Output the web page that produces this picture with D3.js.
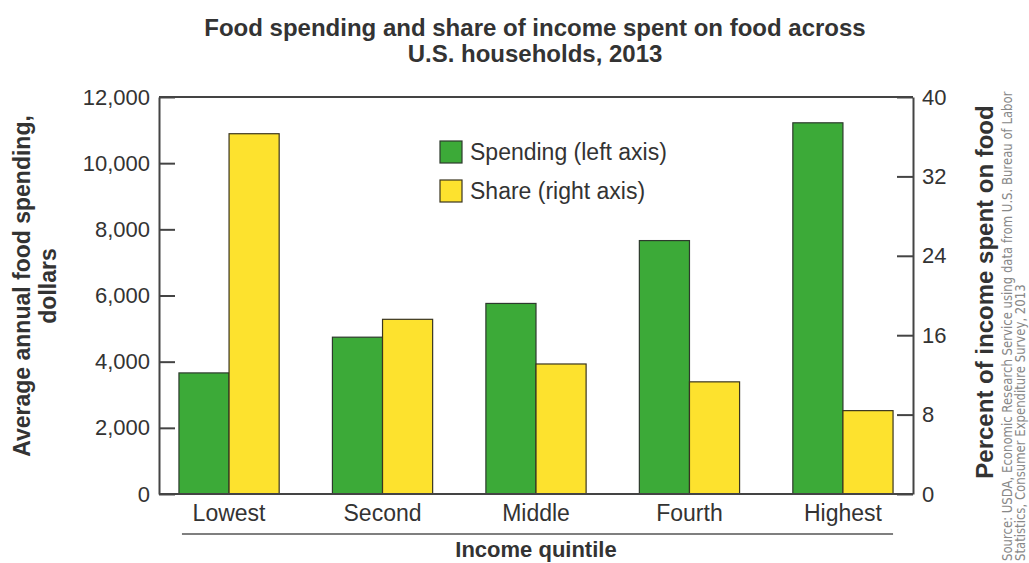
<!DOCTYPE html>
<html>
<head>
<meta charset="utf-8">
<script src="https://cdn.jsdelivr.net/npm/d3@7"></script>
<style>
  body { margin: 0; background: #fff; }
  svg { display: block; font-family: "Liberation Sans", Arial, sans-serif; }
  .axis text { fill: #333; font-size: 22px; }
  .axis line, .axis path { stroke: #444; stroke-width: 2; }
</style>
</head>
<body>
<svg id="chart" width="1029" height="563"></svg>
<script>
// chart values
const categories = ["Lowest", "Second", "Middle", "Fourth", "Highest"];
const spending = [3660, 4740, 5760, 7660, 11220];
const share = [36.3, 17.6, 13.1, 11.3, 8.4];
const leftTicks = [0, 2000, 4000, 6000, 8000, 10000, 12000];
const rightTicks = [0, 8, 16, 24, 32, 40];
const titleLines = ["Food spending and share of income spent on food across", "U.S. households, 2013"];
const sourceLines = ["Source: USDA, Economic Research Service using data from U.S. Bureau of Labor",
                     "Statistics, Consumer Expenditure Survey, 2013"];

const margin = { left: 159, right: 116, top: 97, bottom: 69 };
const svg = d3.select("#chart");
const width = 1029 - margin.left - margin.right;
const height = 563 - margin.top - margin.bottom;

const chart = svg.append("g")
    .attr("transform", "translate(" + margin.left + "," + margin.top + ")");

const xScale = d3.scaleBand()
    .domain(categories)
    .range([0, width])
    .paddingInner(0.347)
    .paddingOuter(0.13);

const xSub = d3.scaleBand()
    .domain(["spending", "share"])
    .range([0, xScale.bandwidth()]);

const yLeft = d3.scaleLinear().domain([0, 12000]).range([height, 0]);
const yRight = d3.scaleLinear().domain([0, 40]).range([height, 0]);

// bars
const groups = chart.selectAll(".group")
    .data(categories)
    .enter().append("g")
    .attr("transform", d => "translate(" + xScale(d) + ",0)");

groups.append("rect")
    .attr("x", xSub("spending"))
    .attr("width", xSub.bandwidth())
    .attr("y", (d, i) => yLeft(spending[i]))
    .attr("height", (d, i) => height - yLeft(spending[i]))
    .attr("fill", "#3caa38")
    .attr("stroke", "#2d3a2d")
    .attr("stroke-width", 1.2);

groups.append("rect")
    .attr("x", xSub("share"))
    .attr("width", xSub.bandwidth())
    .attr("y", (d, i) => yRight(share[i]))
    .attr("height", (d, i) => height - yRight(share[i]))
    .attr("fill", "#fde22e")
    .attr("stroke", "#3a3520")
    .attr("stroke-width", 1.2);

// axes
chart.append("g")
    .attr("class", "axis")
    .call(d3.axisLeft(yLeft).tickValues(leftTicks).tickFormat(d3.format(","))
        .tickSizeInner(-16).tickSizeOuter(0).tickPadding(9));

chart.append("g")
    .attr("class", "axis")
    .attr("transform", "translate(" + width + ",0)")
    .call(d3.axisRight(yRight).tickValues(rightTicks)
        .tickSizeInner(-16).tickSizeOuter(0).tickPadding(9));

const xAxis = chart.append("g")
    .attr("class", "axis")
    .attr("transform", "translate(0," + height + ")")
    .call(d3.axisBottom(xScale).tickSize(0).tickPadding(11));
xAxis.select(".domain").remove();
xAxis.selectAll("text").style("font-size", "23px");

// frame top and bottom
chart.append("line")
    .attr("x1", 0).attr("x2", width).attr("y1", 0).attr("y2", 0)
    .attr("stroke", "#444").attr("stroke-width", 2);
chart.append("line")
    .attr("x1", 0).attr("x2", width).attr("y1", height).attr("y2", height)
    .attr("stroke", "#444").attr("stroke-width", 2);

// rule under category labels
chart.append("line")
    .attr("x1", xScale(categories[0]) + 3)
    .attr("x2", xScale(categories[categories.length - 1]) + xScale.bandwidth())
    .attr("y1", height + 40).attr("y2", height + 40)
    .attr("stroke", "#555").attr("stroke-width", 1.5);

chart.append("text")
    .attr("x", width / 2)
    .attr("y", height + 63)
    .attr("text-anchor", "middle")
    .style("font-size", "22px").style("font-weight", "bold").style("fill", "#333")
    .text("Income quintile");

// title
svg.append("g").selectAll("text")
    .data(titleLines)
    .enter().append("text")
    .attr("x", 535)
    .attr("y", (d, i) => 36 + i * 26)
    .attr("text-anchor", "middle")
    .style("font-size", "24px").style("font-weight", "bold").style("fill", "#333")
    .text(d => d);

// left axis title
svg.append("g").selectAll("text")
    .data(["Average annual food spending,", "dollars"])
    .enter().append("text")
    .attr("transform", (d, i) => "translate(" + (30 + i * 26) + ",286) rotate(-90)")
    .attr("text-anchor", "middle")
    .style("font-size", "23px").style("font-weight", "bold").style("fill", "#333")
    .text(d => d);

// right axis title
svg.append("text")
    .attr("transform", "translate(993,292) rotate(-90)")
    .attr("text-anchor", "middle")
    .style("font-size", "24px").style("font-weight", "bold").style("fill", "#333")
    .text("Percent of income spent on food");

// source
svg.append("g").selectAll("text")
    .data(sourceLines)
    .enter().append("text")
    .attr("transform", (d, i) => "translate(" + (1012 + i * 13) + ",561) rotate(-90) scale(0.93,1)")
    .style("font-family", "'Liberation Sans Narrow', 'DejaVu Sans Condensed', sans-serif")
    .style("font-size", "14px").style("fill", "#888")
    .text(d => d);

// legend
const legendItems = [
    { label: "Spending (left axis)", fill: "#3caa38", stroke: "#2d3a2d" },
    { label: "Share (right axis)", fill: "#fde22e", stroke: "#3a3520" }
];
const legend = svg.append("g").attr("transform", "translate(440,141)");
const li = legend.selectAll("g")
    .data(legendItems)
    .enter().append("g")
    .attr("transform", (d, i) => "translate(0," + i * 39 + ")");
li.append("rect")
    .attr("width", 22).attr("height", 22)
    .attr("fill", d => d.fill).attr("stroke", d => d.stroke).attr("stroke-width", 1.2);
li.append("text")
    .attr("x", 30).attr("y", 19)
    .style("font-size", "23px").style("fill", "#333")
    .text(d => d.label);
</script>
</body>
</html>
